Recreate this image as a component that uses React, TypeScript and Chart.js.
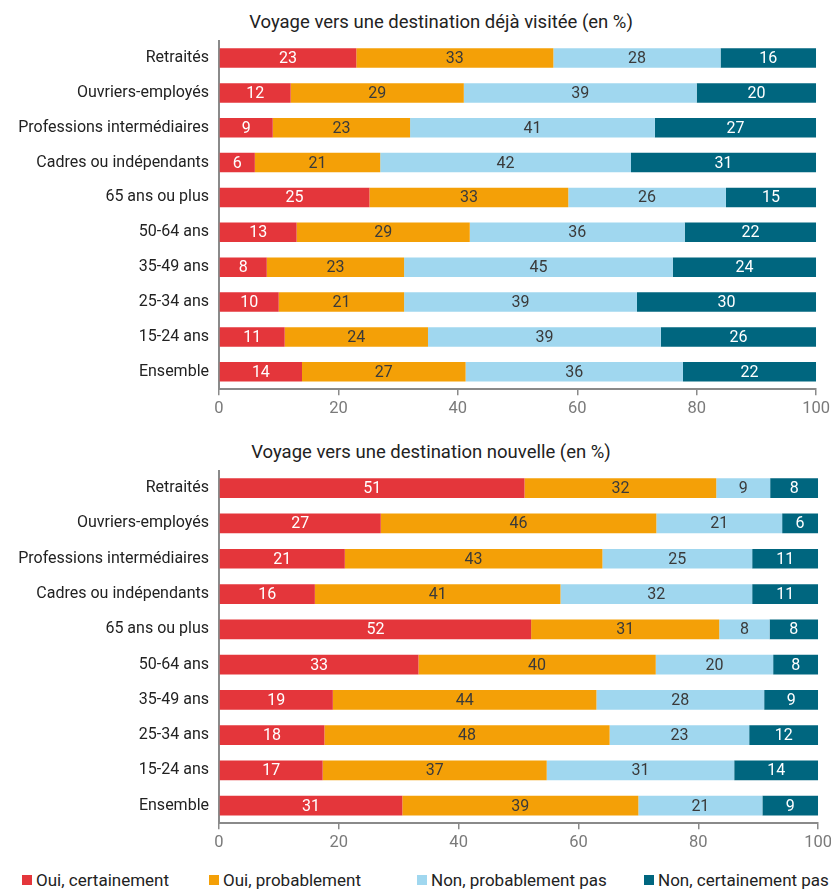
import React, { useEffect, useRef } from "react";
import { Chart, registerables } from "chart.js";

Chart.register(...registerables);

const categories = [
  "Retraités",
  "Ouvriers-employés",
  "Professions intermédiaires",
  "Cadres ou indépendants",
  "65 ans ou plus",
  "50-64 ans",
  "35-49 ans",
  "25-34 ans",
  "15-24 ans",
  "Ensemble",
];

const seriesNames = [
  "Oui, certainement",
  "Oui, probablement",
  "Non, probablement pas",
  "Non, certainement pas",
];

const seriesColors = ["#E4363B", "#F4A007", "#A0D7EF", "#00667F"];
const labelColors = ["#FFFFFF", "#3A3A3A", "#3A3A3A", "#FFFFFF"];

const title1 = "Voyage vers une destination déjà visitée (en %)";
const ouiCert1 = [23, 12, 9, 6, 25.2, 13, 8, 10, 11, 13.9];
const ouiProb1 = [33, 29, 23, 21, 33.3, 29, 23, 21, 24, 27.4];
const nonProb1 = [28, 39, 41, 42, 26.4, 36, 45, 39, 39, 36.4];
const nonCert1 = [16, 20, 27, 31, 15.1, 22, 24, 30, 26, 22.3];

const title2 = "Voyage vers une destination nouvelle (en %)";
const ouiCert2 = [51, 27, 21, 16, 52.1, 33.3, 19, 17.6, 17.3, 30.6];
const ouiProb2 = [32, 46, 43, 41, 31.4, 39.6, 44, 47.6, 37.4, 39.4];
const nonProb2 = [9, 21, 25, 32, 8.4, 19.6, 28, 23.3, 31.3, 20.7];
const nonCert2 = [8, 6, 11, 11, 8.1, 7.5, 9, 11.5, 14.0, 9.3];

const xTicks = [0, 20, 40, 60, 80, 100];

const FONT = "Roboto, 'Noto Sans', sans-serif";

const barLabelPlugin = {
  id: "barLabels",
  afterDatasetsDraw(chart: any) {
    const ctx = chart.ctx;
    ctx.save();
    ctx.font = `16px ${FONT}`;
    ctx.textAlign = "center";
    ctx.textBaseline = "middle";
    chart.data.datasets.forEach((ds: any, di: number) => {
      const meta = chart.getDatasetMeta(di);
      meta.data.forEach((el: any, i: number) => {
        const v = ds.data[i];
        const cx = (el.x + el.base) / 2;
        ctx.fillStyle = labelColors[di];
        ctx.fillText(String(Math.round(v)), cx, el.y + 1);
      });
    });
    ctx.restore();
  },
};

function StackedChart({
  series,
  width,
  height,
}: {
  series: number[][];
  width: number;
  height: number;
}) {
  const ref = useRef<HTMLCanvasElement | null>(null);
  useEffect(() => {
    if (!ref.current) return;
    const chart = new Chart(ref.current, {
      type: "bar",
      data: {
        labels: categories,
        datasets: series.map((d, i) => ({
          label: seriesNames[i],
          data: d,
          backgroundColor: seriesColors[i],
          borderWidth: 0,
          barPercentage: 0.56,
          categoryPercentage: 1,
        })),
      },
      options: {
        indexAxis: "y",
        responsive: false,
        animation: false,
        events: [],
        layout: {
          autoPadding: false,
          padding: { top: 4, right: 15, left: 0, bottom: 0 },
        },
        plugins: {
          legend: { display: false },
          title: { display: false },
          tooltip: { enabled: false },
        },
        scales: {
          x: {
            stacked: true,
            min: 0,
            max: 100,
            afterBuildTicks: (scale: any) => {
              scale.ticks = xTicks.map((v) => ({ value: v }));
            },
            grid: {
              drawOnChartArea: false,
              drawTicks: true,
              tickLength: 6,
              color: "#8A8A8A",
              lineWidth: 1.5,
            },
            border: { display: true, color: "#8A8A8A", width: 2 },
            ticks: {
              color: "#7A7A7A",
              font: { family: FONT, size: 16.5 },
              padding: 4,
            },
          },
          y: {
            stacked: true,
            afterFit: (scale: any) => {
              scale.width = 211;
            },
            grid: { drawOnChartArea: false, drawTicks: false },
            border: { display: true, color: "#8A8A8A", width: 2 },
            ticks: {
              color: "#222222",
              font: { family: FONT, size: 16 },
              padding: 10,
            },
          },
        },
      } as any,
      plugins: [barLabelPlugin],
    });
    return () => chart.destroy();
  }, []);
  return <canvas ref={ref} width={width} height={height} style={{ display: "block" }} />;
}

const legendLefts = [23, 210, 418, 645];

export default function App() {
  const titleStyle: React.CSSProperties = {
    position: "absolute",
    left: 8,
    width: 823,
    boxSizing: "border-box",
    textAlign: "center",
    fontFamily: FONT,
    fontSize: 18.5,
    color: "#222",
    lineHeight: "22px",
  };
  return (
    <div style={{ position: "relative", width: 831, height: 890, fontFamily: FONT, overflow: "hidden" }}>
      <style>{"body{margin:0}"}</style>
      <div style={{ ...titleStyle, top: 11, paddingLeft: 43 }}>{title1}</div>
      <div style={{ position: "absolute", top: 21, left: 8 }}>
        <StackedChart series={[ouiCert1, ouiProb1, nonProb1, nonCert1]} width={826} height={402} />
      </div>
      <div style={{ ...titleStyle, top: 441, paddingLeft: 23 }}>{title2}</div>
      <div style={{ position: "absolute", top: 451, left: 8 }}>
        <StackedChart series={[ouiCert2, ouiProb2, nonProb2, nonCert2]} width={828} height={406} />
      </div>
      {seriesNames.map((n, i) => (
        <div
          key={n}
          style={{
            position: "absolute",
            top: 871,
            left: legendLefts[i] - 1,
            display: "flex",
            alignItems: "center",
            fontSize: 17,
            color: "#222",
            whiteSpace: "nowrap",
            lineHeight: "18px",
          }}
        >
          <span
            style={{
              display: "inline-block",
              width: 10,
              height: 10,
              background: seriesColors[i],
              marginRight: 4,
            }}
          />
          {n}
        </div>
      ))}
    </div>
  );
}
